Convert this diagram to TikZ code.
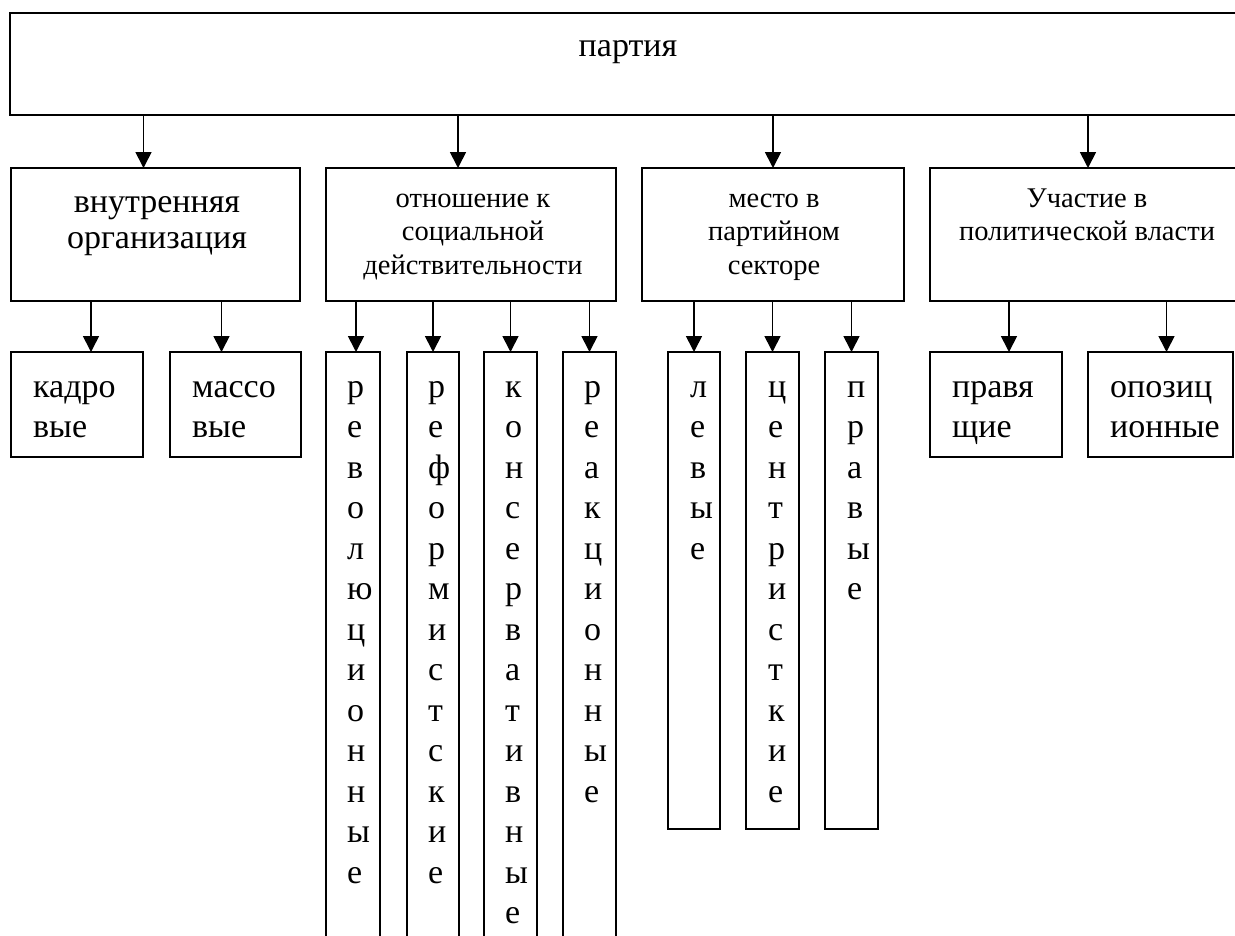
\documentclass[tikz,border=0pt]{standalone}
\usepackage{fontspec}
\setmainfont{Liberation Serif}
\usetikzlibrary{arrows.meta}
\begin{document}
\begin{tikzpicture}[x=1pt,y=-1pt,
  box/.style={draw,line width=2pt,inner sep=0pt,outer sep=0pt,anchor=north west},
  arr/.style={line width=1.7pt,-{Triangle[width=16pt,length=16pt]}},
  bigtxt/.style={font=\fontsize{34}{40.5}\selectfont,inner sep=0pt,align=left,anchor=base west},
  midtxt/.style={font=\fontsize{34}{36.5}\selectfont,inner sep=0pt,align=center,anchor=base},
  smalltxt/.style={font=\fontsize{28.5}{33.5}\selectfont,inner sep=0pt,align=center,anchor=base}]
\useasboundingbox (0,0) rectangle (1235,935);
\clip (0,0) rectangle (1235,935);
\fill[white] (0,0) rectangle (1235,935);
% top
\node[box,minimum width=1240pt,minimum height=102pt] (top) at (10,13) {};
\node[font=\fontsize{34}{40}\selectfont,inner sep=0pt,anchor=base] (topT) at (628,56) {партия};
% level 2
\node[box,minimum width=289pt,minimum height=133pt] (b1) at (11,168) {};
\node[box,minimum width=290pt,minimum height=133pt] (b2) at (326,168) {};
\node[box,minimum width=262pt,minimum height=133pt] (b3) at (642,168) {};
\node[box,minimum width=320pt,minimum height=133pt] (b4) at (930,168) {};
% anchor=base is the baseline of the last line
\node[midtxt] (b1T) at (157,248.5) {внутренняя\\организация};
\node[smalltxt] (b2T) at (473,274) {отношение к\\социальной\\действительности};
\node[smalltxt] (b3T) at (774,274) {место в\\партийном\\секторе};
\node[smalltxt] (b4T) at (1087,240.5) {Участие в\\политической власти};
% level 3
\node[box,minimum width=132pt,minimum height=105pt] (kad) at (11,352) {};
\node[box,minimum width=131pt,minimum height=105pt] (mas) at (170,352) {};
\node[box,minimum width=54pt,minimum height=600pt] (t1) at (326,352) {};
\node[box,minimum width=52pt,minimum height=600pt] (t2) at (407,352) {};
\node[box,minimum width=53pt,minimum height=600pt] (t3) at (484,352) {};
\node[box,minimum width=53pt,minimum height=600pt] (t4) at (563,352) {};
\node[box,minimum width=52pt,minimum height=477pt] (lev) at (668,352) {};
\node[box,minimum width=53pt,minimum height=477pt] (cen) at (746,352) {};
\node[box,minimum width=53pt,minimum height=477pt] (prv) at (825,352) {};
\node[box,minimum width=132pt,minimum height=105pt] (pra) at (930,352) {};
\node[box,minimum width=145pt,minimum height=105pt] (opp) at (1088,352) {};
\node[bigtxt] (kadT) at (33,437.5) {кадро\\вые};
\node[bigtxt] (masT) at (192,437.5) {массо\\вые};
\node[bigtxt] (t1T) at (347,883) {р\\е\\в\\о\\л\\ю\\ц\\и\\о\\н\\н\\ы\\е};
\node[bigtxt] (t2T) at (428,883) {р\\е\\ф\\о\\р\\м\\и\\с\\т\\с\\к\\и\\е};
\node[bigtxt] (t3T) at (505,923.5) {к\\о\\н\\с\\е\\р\\в\\а\\т\\и\\в\\н\\ы\\е};
\node[bigtxt] (t4T) at (584,802) {р\\е\\а\\к\\ц\\и\\о\\н\\н\\ы\\е};
\node[bigtxt] (levT) at (690,559) {л\\е\\в\\ы\\е};
\node[bigtxt] (cenT) at (768,802) {ц\\е\\н\\т\\р\\и\\с\\т\\к\\и\\е};
\node[bigtxt] (prvT) at (847,599.5) {п\\р\\а\\в\\ы\\е};
\node[bigtxt] (praT) at (952,437.5) {правя\\щие};
\node[bigtxt] (oppT) at (1110,437.5) {опозиц\\ионные};
% arrows top -> level 2
\draw[arr] ([xshift=-12pt]b1.north |- top.south) -- ([xshift=-12pt]b1.north);
\draw[arr] ([xshift=-13pt]b2.north |- top.south) -- ([xshift=-13pt]b2.north);
\draw[arr] (b3.north |- top.south) -- (b3.north);
\draw[arr] ([xshift=-2pt]b4.north |- top.south) -- ([xshift=-2pt]b4.north);
% arrows level 2 -> level 3
\draw[arr] ([xshift=14pt]kad.north |- b1.south) -- ([xshift=14pt]kad.north);
\draw[arr] ([xshift=-14pt]mas.north |- b1.south) -- ([xshift=-14pt]mas.north);
\draw[arr] ([xshift=3pt]t1.north |- b2.south) -- ([xshift=3pt]t1.north);
\draw[arr] (t2.north |- b2.south) -- (t2.north);
\draw[arr] (t3.north |- b2.south) -- (t3.north);
\draw[arr] (t4.north |- b2.south) -- (t4.north);
\draw[arr] (lev.north |- b3.south) -- (lev.north);
\draw[arr] (cen.north |- b3.south) -- (cen.north);
\draw[arr] (prv.north |- b3.south) -- (prv.north);
\draw[arr] ([xshift=13pt]pra.north |- b4.south) -- ([xshift=13pt]pra.north);
\draw[arr] ([xshift=6pt]opp.north |- b4.south) -- ([xshift=6pt]opp.north);
\end{tikzpicture}
\end{document}
